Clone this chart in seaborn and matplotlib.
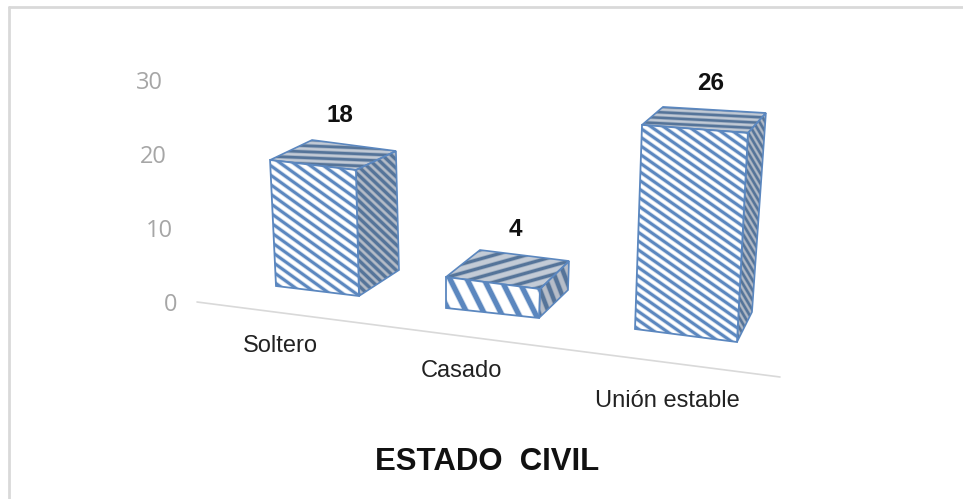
import numpy as np
import matplotlib
matplotlib.use("Agg")
import matplotlib.pyplot as plt
import pandas as pd
import seaborn as sns
from matplotlib.collections import LineCollection
from matplotlib.lines import Line2D
from matplotlib.patches import Polygon
from matplotlib.path import Path
from matplotlib.transforms import Affine2D, ScaledTranslation, Transform

categories = ["Soltero", "Casado", "Unión estable"]
values = [18, 4, 26]
axis_title = "ESTADO  CIVIL"
y_ticks = [0, 10, 20, 30]

W, H = 963, 499
BLUE = "#5b87bf"
DARK = "#557499"
sns.set_theme(style="white")
plt.rcParams["font.family"] = ["Liberation Sans", "DejaVu Sans"]

fig = plt.figure(figsize=(W / 100, H / 100), dpi=100, facecolor="white")
ax = fig.add_axes([197 / W, 1 - 302 / H, (780 - 197) / W, 222 / H])
ax.patch.set_alpha(0)
px = Affine2D().scale(1, -1).translate(0, H)  # image pixels -> display


class FrontFace(Transform):
    """Maps a bar (category x, value y) on to its perspective front face."""
    input_dims = output_dims = 2
    is_separable = False
    has_inverse = False

    def __init__(self, x0, x1, bl, br, ul, ur):
        super().__init__()
        self.g = (x0, x1, np.array(bl, float), np.array(br, float),
                  np.array(ul, float), np.array(ur, float))

    def transform_non_affine(self, xy):
        x0, x1, bl, br, ul, ur = self.g
        xy = np.asarray(xy, float)
        u = ((xy[:, 0] - x0) / (x1 - x0))[:, None]
        v = xy[:, 1][:, None]
        p = (1 - u) * (bl + v * ul) + u * (br + v * ur)
        return px.transform(p)


# Perspective set-up of each bar: bottom corners, rise per unit of value,
# depth vectors of top-left, top-right and bottom-right corners.
views = [
    dict(bl=(276, 286), br=(359, 296), ul=(-0.33, -7.0), ur=(-0.17, -7.0),
         dtl=(42, -20), dtr=(40, -19), dbr=(40, -26)),
    dict(bl=(446, 308), br=(539, 318), ul=(0.0, -7.75), ur=(0.25, -7.25),
         dtl=(34, -27), dtr=(29, -28), dbr=(29, -28)),
    dict(bl=(635, 329), br=(737, 342), ul=(0.27, -7.85), ur=(0.42, -8.04),
         dtl=(21, -18), dtr=(18, -20), dbr=(15, -30)),
]
# Stripe style per face: slope, vertical spacing, line width (px)
front_st = [(0.72, 9.5, 2.8), (2.0, 34, 5.0), (0.70, 8.8, 2.8)]
side_st = [(0.95, 8.5, 3.0), (2.6, 26, 4.0), (1.7, 10, 2.4)]
top_st = [(0.04, 6.0, 2.6), (-0.28, 9.0, 3.0), (0.05, 5.5, 2.4)]

df = pd.DataFrame({"cat": categories, "val": values})
sns.barplot(data=df, x="cat", y="val", ax=ax, color="white", width=0.5, saturation=1)


def stripes(poly, st, color, z):
    slope, gap, lw = st
    poly = np.asarray(poly, float)
    clip = Path(np.vstack([poly, poly[:1]]))
    xs = np.array([poly[:, 0].min() - 5, poly[:, 0].max() + 5])
    c = poly[:, 1] - slope * poly[:, 0]
    segs = [np.column_stack([xs, slope * xs + k])
            for k in np.arange(c.min() - gap, c.max() + gap, gap)]
    # soft halo (the reference is slightly blurred), then the stripe itself
    for width, alpha, zz in [(lw + 1.6, 0.30, z), (lw, 1.0, z + 0.01)]:
        lc = LineCollection(segs, colors=color, linewidths=width * 0.72, alpha=alpha,
                            transform=px, zorder=zz)
        lc.set_clip_path(clip, px)
        ax.add_artist(lc)


def face(poly, fill, st, stripe_color, z):
    ax.add_patch(Polygon(poly, closed=True, facecolor=fill, edgecolor="none",
                         transform=px, clip_on=False, zorder=z))
    stripes(poly, st, stripe_color, z + 0.1)
    ax.add_patch(Polygon(poly, closed=True, fill=False, edgecolor=BLUE, lw=1.2,
                         transform=px, clip_on=False, zorder=z + 0.2))


for i, (bar, v) in enumerate(zip(ax.patches, views)):
    h = bar.get_height()
    bl, br = np.array(v["bl"], float), np.array(v["br"], float)
    tl = bl + h * np.array(v["ul"])
    tr = br + h * np.array(v["ur"])
    bar.set_transform(FrontFace(bar.get_x(), bar.get_x() + bar.get_width(),
                                v["bl"], v["br"], v["ul"], v["ur"]))
    bar.set_clip_on(False)
    bar.set_edgecolor("none")
    bar.set_zorder(3)
    front = [bl, br, tr, tl]
    stripes(front, front_st[i], BLUE, 3.1)
    ax.add_patch(Polygon(front, closed=True, fill=False, edgecolor=BLUE, lw=1.3,
                         transform=px, clip_on=False, zorder=3.2))
    tbr = tr + np.array(v["dtr"])
    face([tl, tr, tbr, tl + np.array(v["dtl"])], "#c3cbd6", top_st[i], DARK, 2)
    face([br, br + np.array(v["dbr"]), tbr, tr], "#b6bdc8", side_st[i], DARK, 2)

# Value labels
label_pos = [(340, 115.5), (515, 230), (711, 83.5)]
for val, (x, y) in zip(values, label_pos):
    ax.text(x, y, str(val), transform=px, ha="center", va="center",
            fontsize=17.5, fontweight="bold", color="#111111", clip_on=False)

# Value axis: 0 at the axes bottom, perspective-shifted tick labels
ax.set_ylim(0, 30)
ax.set_yticks(y_ticks)
ax.set_yticklabels([str(t) for t in y_ticks], fontsize=17, color="#a6a6a6",
                   fontfamily="Open Sans")
ax.tick_params(axis="y", length=0, pad=0)
y_dx = [-20, -24, -30, -34]
for lab, dx in zip(ax.get_yticklabels(), y_dx):
    lab.set_transform(lab.get_transform() + ScaledTranslation(dx / 100, 0, fig.dpi_scale_trans))

# Category axis
ax.set_xlim(-(280 - 197) / 193.5, (780 - 280) / 193.5)
ax.set_xticks(range(len(categories)))
ax.set_xticklabels(categories, fontsize=17, color="#222222")
ax.tick_params(axis="x", length=0, pad=0)
x_dy = [-33, -58, -88]
x_dx = [0, -12, 0]
for lab, dy, dx in zip(ax.get_xticklabels(), x_dy, x_dx):
    lab.set_transform(lab.get_transform() + ScaledTranslation(dx / 100, dy / 100, fig.dpi_scale_trans))
ax.set_xlabel("")
ax.set_ylabel("")
sns.despine(ax=ax, left=True, bottom=True, top=True, right=True)

# Slanted floor line
ax.add_artist(Line2D([197, 780], [302, 377], transform=px, color="#d9d9d9", lw=1.2,
                     zorder=1, clip_on=False))

fig.text(487.5 / W, 1 - 461.5 / H, axis_title, ha="center", va="center", fontsize=22.4,
         fontweight="bold", color="#111111")

# Chart frame: only the left and top edges are inside the crop
for xs, ys in [([9, 9], [7, 499]), ([9, 963], [7, 7])]:
    fig.add_artist(Line2D(xs, ys, transform=px, color="#d9d9d9", lw=2))

fig.savefig("out.png", dpi=100, facecolor="white")
